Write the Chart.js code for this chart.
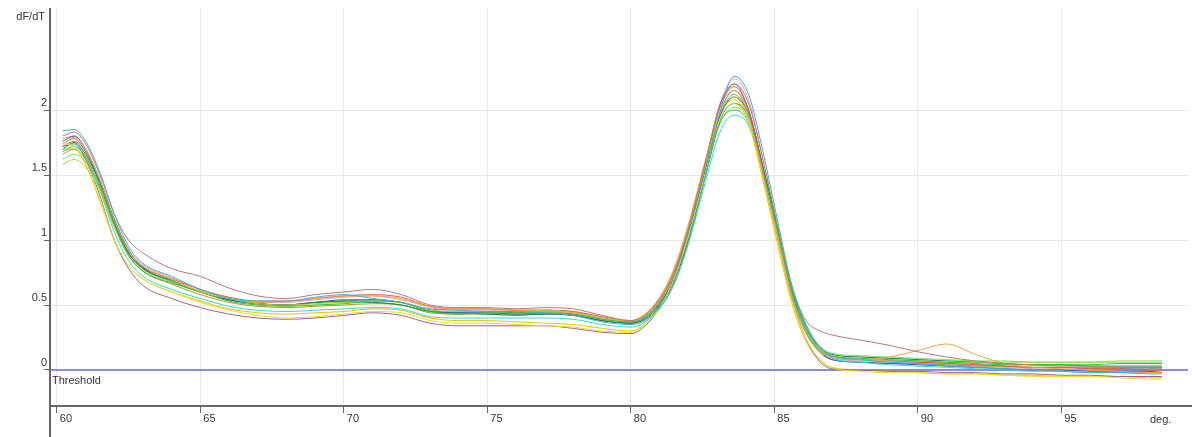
<!DOCTYPE html>
<html>
<head>
<meta charset="utf-8">
<title>Melt curve dF/dT</title>
<script src="https://cdn.jsdelivr.net/npm/chart.js@4.4.1/dist/chart.umd.min.js"></script>
<style>
  html, body { margin: 0; padding: 0; background: #fff; }
  #wrap { width: 1192px; height: 437px; position: relative; }
</style>
</head>
<body>
<div id="wrap"><canvas id="meltChart"></canvas></div>
<script>
// temperatures (deg) shared by every run
var temps = [60.2, 60.6, 61, 61.5, 62, 62.5, 63, 64, 65, 66, 67, 68, 69, 70, 71, 72, 73, 74, 75, 76,
    77, 78, 79, 80, 80.5, 81, 81.5, 82, 82.6, 83.1, 83.6, 84.1, 84.6, 85.1, 85.6, 86.1, 86.6, 87, 88, 89,
    90, 91, 92, 93, 94, 95, 96, 97, 98, 98.5];

// dF/dT per sample
var sample1 = [1.84,1.85,1.76,1.52,1.2,0.95,0.82,0.72,0.62,0.55,0.53,0.53,0.56,0.58,0.55,0.52,0.47,0.46,0.45,0.45,0.44,0.42,0.37,0.35,0.38,0.48,0.66,0.98,1.5,1.98,2.26,2.12,1.68,1.16,0.66,0.35,0.17,0.11,0.08,0.06,0.05,0.03,0.02,0.01,0.0,-0.01,-0.02,-0.02,-0.03,-0.03];
var sample2 = [1.8,1.83,1.74,1.5,1.2,1.0,0.9,0.78,0.72,0.63,0.57,0.55,0.58,0.6,0.62,0.58,0.5,0.48,0.48,0.47,0.48,0.47,0.42,0.38,0.42,0.54,0.75,1.08,1.6,2.02,2.2,2.05,1.62,1.12,0.65,0.38,0.3,0.27,0.23,0.19,0.14,0.1,0.07,0.05,0.04,0.03,0.03,0.02,0.02,0.02];
var sample3 = [1.76,1.79,1.7,1.46,1.15,0.92,0.8,0.7,0.6,0.55,0.52,0.53,0.55,0.57,0.57,0.54,0.49,0.47,0.47,0.46,0.45,0.44,0.4,0.38,0.43,0.56,0.78,1.12,1.62,2.02,2.15,1.96,1.5,1.02,0.56,0.28,0.14,0.1,0.08,0.1,0.15,0.2,0.12,0.05,0.02,0.01,0.0,-0.01,-0.02,-0.02];
var sample4 = [1.74,1.72,1.6,1.32,1.0,0.8,0.7,0.6,0.52,0.46,0.42,0.4,0.41,0.43,0.45,0.44,0.38,0.36,0.36,0.35,0.34,0.33,0.3,0.29,0.35,0.48,0.7,1.03,1.52,1.93,2.05,1.9,1.48,1.02,0.55,0.24,0.08,0.02,-0.01,-0.02,-0.02,-0.03,-0.03,-0.04,-0.05,-0.05,-0.05,-0.06,-0.07,-0.07];
var sample5 = [1.68,1.72,1.64,1.42,1.12,0.88,0.76,0.67,0.6,0.53,0.5,0.49,0.5,0.51,0.53,0.52,0.45,0.43,0.44,0.44,0.45,0.43,0.39,0.37,0.4,0.5,0.7,1.02,1.5,1.9,2.0,1.9,1.52,1.08,0.62,0.33,0.16,0.11,0.09,0.08,0.07,0.06,0.05,0.04,0.04,0.04,0.04,0.05,0.05,0.05];
var sample6 = [1.58,1.62,1.56,1.38,1.1,0.88,0.77,0.68,0.61,0.55,0.51,0.5,0.51,0.52,0.53,0.52,0.46,0.45,0.45,0.45,0.46,0.44,0.39,0.37,0.42,0.54,0.76,1.1,1.58,1.98,2.1,1.94,1.52,1.05,0.58,0.3,0.15,0.1,0.08,0.07,0.07,0.06,0.06,0.06,0.06,0.06,0.06,0.07,0.07,0.07];
var sample7 = [1.7,1.74,1.64,1.38,1.06,0.84,0.72,0.62,0.55,0.49,0.46,0.45,0.46,0.47,0.48,0.47,0.41,0.4,0.4,0.4,0.4,0.39,0.35,0.33,0.37,0.47,0.66,0.97,1.45,1.83,1.96,1.88,1.52,1.08,0.62,0.32,0.15,0.09,0.06,0.04,0.03,0.02,0.01,0.0,-0.01,-0.01,-0.02,-0.02,-0.02,-0.02];
var sample8 = [1.72,1.74,1.62,1.34,1.0,0.78,0.65,0.55,0.48,0.43,0.4,0.39,0.4,0.42,0.44,0.42,0.36,0.34,0.34,0.34,0.34,0.32,0.29,0.28,0.34,0.48,0.72,1.08,1.6,2.04,2.2,2.0,1.55,1.05,0.56,0.24,0.06,0.01,0.0,-0.01,-0.01,-0.02,-0.02,-0.03,-0.03,-0.04,-0.04,-0.05,-0.05,-0.05];
var sample9 = [1.7,1.75,1.66,1.44,1.14,0.9,0.78,0.69,0.6,0.54,0.51,0.5,0.52,0.53,0.52,0.5,0.45,0.44,0.43,0.42,0.43,0.42,0.38,0.36,0.39,0.49,0.68,1.0,1.5,1.92,2.05,1.95,1.56,1.1,0.63,0.33,0.17,0.12,0.1,0.09,0.08,0.07,0.06,0.05,0.04,0.04,0.03,0.03,0.03,0.03];
var sample10 = [1.76,1.8,1.7,1.46,1.16,0.92,0.79,0.68,0.6,0.54,0.51,0.5,0.52,0.54,0.54,0.52,0.46,0.44,0.44,0.43,0.43,0.42,0.38,0.36,0.4,0.51,0.71,1.04,1.54,1.95,2.1,1.97,1.55,1.08,0.6,0.3,0.14,0.08,0.06,0.05,0.04,0.03,0.02,0.01,0.0,0.0,-0.01,-0.01,-0.01,-0.02];
var sample11 = [1.72,1.76,1.68,1.44,1.14,0.9,0.79,0.7,0.62,0.56,0.53,0.53,0.55,0.57,0.58,0.56,0.49,0.47,0.47,0.46,0.46,0.45,0.41,0.38,0.43,0.55,0.76,1.1,1.6,2.02,2.18,2.0,1.56,1.06,0.58,0.3,0.15,0.1,0.08,0.07,0.06,0.05,0.04,0.03,0.02,0.02,0.01,0.01,0.0,0.0];
var sample12 = [1.66,1.7,1.62,1.4,1.1,0.88,0.76,0.66,0.58,0.52,0.49,0.48,0.49,0.5,0.51,0.5,0.44,0.43,0.43,0.43,0.44,0.42,0.38,0.36,0.41,0.53,0.75,1.08,1.57,1.97,2.12,1.96,1.54,1.06,0.58,0.29,0.13,0.08,0.06,0.05,0.05,0.04,0.03,0.03,0.02,0.02,0.02,0.02,0.02,0.02];
var sample13 = [1.62,1.66,1.6,1.4,1.12,0.9,0.78,0.68,0.6,0.54,0.51,0.5,0.52,0.52,0.52,0.5,0.45,0.44,0.45,0.45,0.46,0.45,0.4,0.38,0.41,0.51,0.7,1.02,1.5,1.9,2.02,1.93,1.55,1.1,0.64,0.35,0.18,0.13,0.11,0.1,0.09,0.08,0.07,0.07,0.06,0.06,0.06,0.06,0.06,0.06];
var sample14 = [1.78,1.8,1.7,1.46,1.16,0.93,0.81,0.71,0.62,0.55,0.52,0.52,0.54,0.56,0.57,0.55,0.48,0.46,0.46,0.46,0.46,0.44,0.4,0.37,0.41,0.53,0.74,1.08,1.6,2.05,2.24,2.08,1.62,1.1,0.6,0.3,0.14,0.09,0.07,0.06,0.05,0.04,0.03,0.02,0.01,0.0,0.0,-0.01,-0.01,-0.01];
var sample15 = [1.7,1.7,1.58,1.3,1.0,0.8,0.7,0.6,0.53,0.47,0.44,0.43,0.44,0.45,0.47,0.46,0.4,0.38,0.38,0.37,0.36,0.35,0.32,0.3,0.36,0.5,0.73,1.07,1.56,1.96,2.08,1.9,1.46,0.98,0.52,0.22,0.07,0.02,0.0,-0.01,-0.02,-0.03,-0.03,-0.04,-0.04,-0.05,-0.05,-0.05,-0.06,-0.06];
var sample16 = [1.74,1.78,1.68,1.44,1.13,0.9,0.78,0.68,0.6,0.54,0.51,0.5,0.52,0.53,0.54,0.52,0.46,0.45,0.45,0.44,0.44,0.43,0.39,0.37,0.41,0.52,0.73,1.06,1.56,1.98,2.15,1.99,1.57,1.08,0.6,0.31,0.15,0.1,0.08,0.07,0.06,0.05,0.04,0.03,0.02,0.02,0.01,0.01,0.01,0.01];

var samples = [sample1, sample2, sample3, sample4, sample5, sample6, sample7, sample8,
    sample9, sample10, sample11, sample12, sample13, sample14, sample15, sample16];

var xTicks = [60, 65, 70, 75, 80, 85, 90, 95];
var yTicks = [0, 0.5, 1, 1.5, 2];
var thresholdValue = 0;

var lineColors = ['#3fb0d0', '#b87878', '#f0a040', '#e8e020', '#30c030', '#a8d040', '#30d8d8', '#a06090',
    '#208050', '#3060c0', '#e06040', '#a0a030', '#70e070', '#e0a0c0', '#f0c000', '#888888'];

var xMin = 59.76, xMax = 99.41;
var yMin = -0.277, yMax = 2.785;

var datasets = samples.map(function (vals, i) {
    return {
        label: 'Sample ' + (i + 1),
        data: vals.map(function (v, j) { return { x: temps[j], y: v }; }),
        borderColor: lineColors[i],
        borderWidth: 1,
        pointRadius: 0,
        cubicInterpolationMode: 'monotone',
        order: 0
    };
});

datasets.push({
    label: 'Threshold',
    data: [{ x: xMin, y: thresholdValue }, { x: xMax, y: thresholdValue }],
    borderColor: '#8c8ce0',
    borderWidth: 2,
    pointRadius: 0,
    order: 1
});

// axis lines and free text labels
var decorations = {
    id: 'decorations',
    afterDraw: function (chart) {
        var c = chart.ctx, a = chart.chartArea;
        var yScale = chart.scales.y;
        c.save();
        c.strokeStyle = '#666';
        c.lineWidth = 2;
        c.beginPath();
        c.moveTo(a.left, a.top);
        c.lineTo(a.left, chart.height);
        c.moveTo(a.left, a.bottom);
        c.lineTo(chart.width, a.bottom);
        c.stroke();

        c.fillStyle = '#333';
        c.font = '11px "Liberation Sans", Arial, sans-serif';
        c.textBaseline = 'middle';
        c.textAlign = 'right';
        c.fillText('dF/dT', a.left - 5, 17);
        c.textAlign = 'left';
        c.fillText('Threshold', a.left + 2, yScale.getPixelForValue(thresholdValue) + 11);
        c.fillText('deg.', 1150, a.bottom + 14);
        c.restore();
    }
};

var ctx = document.getElementById('meltChart');
var meltChart = new Chart(ctx, {
    type: 'line',
    data: { datasets: datasets },
    options: {
        responsive: true,
        maintainAspectRatio: false,
        animation: false,
        layout: { padding: { top: 8, right: 4, left: 0, bottom: 0 } },
        plugins: {
            legend: { display: false },
            tooltip: { enabled: false }
        },
        scales: {
            x: {
                type: 'linear',
                min: xMin,
                max: xMax,
                afterBuildTicks: function (s) { s.ticks = xTicks.map(function (v) { return { value: v }; }); },
                afterFit: function (s) { s.height = 31; },
                border: { display: false },
                grid: { color: '#e8e8e8', tickColor: '#666', tickLength: 7, drawTicks: true },
                ticks: {
                    color: '#333',
                    padding: -1,
                    labelOffset: 9,
                    maxRotation: 0,
                    autoSkip: false,
                    callback: function (v) { return String(v); },
                    font: { family: '"Liberation Sans", Arial, sans-serif', size: 11 }
                }
            },
            y: {
                type: 'linear',
                min: yMin,
                max: yMax,
                afterBuildTicks: function (s) { s.ticks = yTicks.map(function (v) { return { value: v }; }); },
                afterFit: function (s) { s.width = 50; },
                border: { display: false },
                grid: { color: '#e8e8e8', tickColor: '#666', tickLength: 6 },
                ticks: {
                    color: '#333',
                    padding: -3,
                    labelOffset: -7,
                    autoSkip: false,
                    callback: function (v) { return String(v); },
                    font: { family: '"Liberation Sans", Arial, sans-serif', size: 11 }
                }
            }
        }
    },
    plugins: [decorations]
});
</script>
</body>
</html>
